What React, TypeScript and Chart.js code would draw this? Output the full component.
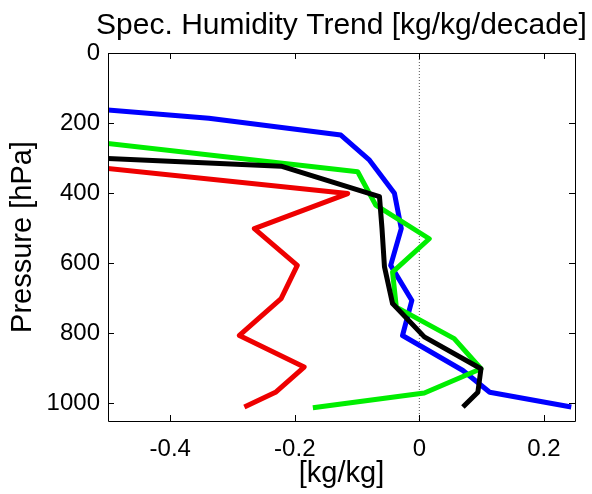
import React, { useEffect, useRef } from "react";
import { Chart, registerables } from "chart.js";

Chart.register(...registerables);

// ---- data ----
const xTickValues = [-0.4, -0.2, 0, 0.2];
const xTickLabels = ["-0.4", "-0.2", "0", "0.2"];
const pressureTicks = [0, 200, 400, 600, 800, 1000];

const blackPressure = [300, 323, 410, 500, 610, 715, 810, 901, 968, 1010];
const blackTrend = [-0.51, -0.222, -0.064, -0.06, -0.056, -0.043, 0.008, 0.099, 0.094, 0.07];

const greenPressure = [250, 339, 434, 530, 625, 725, 815, 901, 970, 1012];
const greenTrend = [-0.54, -0.099, -0.07, 0.016, -0.043, -0.037, 0.056, 0.099, 0.008, -0.171];

const bluePressure = [150, 186, 234, 306, 400, 501, 606, 706, 806, 906, 968, 1010];
const blueTrend = [-0.59, -0.338, -0.126, -0.08, -0.04, -0.029, -0.046, -0.012, -0.027, 0.07, 0.113, 0.244];

const redPressure = [300, 401, 501, 606, 701, 806, 896, 968, 1010];
const redTrend = [-0.657, -0.115, -0.265, -0.196, -0.222, -0.289, -0.185, -0.231, -0.281];

const zeroPressure = [0, 1050];
const zeroTrend = [0, 0];

const TITLE = "Spec. Humidity Trend [kg/kg/decade]";
const X_TITLE = "[kg/kg]";
const Y_TITLE = "Pressure [hPa]";
const FONT = "'Liberation Sans', Arial, Helvetica, sans-serif";

function pts(xs: number[], ps: number[]) {
  return xs.map((x, i) => ({ x, y: ps[i] }));
}

export default function App() {
  const ref = useRef<HTMLCanvasElement>(null);

  useEffect(() => {
    if (!ref.current) return;

    const framePlugin = {
      id: "frameAndTitle",
      afterDatasetsDraw(chart: any) {
        const { ctx, chartArea, scales } = chart;
        const { left, right, top, bottom } = chartArea;
        const xs = scales.x;
        const ys = scales.y;
        const tl = 6;
        ctx.save();
        ctx.strokeStyle = "#000";
        ctx.lineWidth = 1;
        ctx.beginPath();
        ctx.rect(Math.round(left) + 0.5, Math.round(top) + 0.5, Math.round(right - left), Math.round(bottom - top));
        xTickValues.forEach((v) => {
          const px = Math.round(xs.getPixelForValue(v)) + 0.5;
          ctx.moveTo(px, bottom);
          ctx.lineTo(px, bottom - tl);
          ctx.moveTo(px, top);
          ctx.lineTo(px, top + tl);
        });
        pressureTicks.forEach((v) => {
          const py = Math.round(ys.getPixelForValue(v)) + 0.5;
          ctx.moveTo(left, py);
          ctx.lineTo(left + tl, py);
          ctx.moveTo(right, py);
          ctx.lineTo(right - tl, py);
        });
        ctx.stroke();
        ctx.restore();
      },
      afterDraw(chart: any) {
        const { ctx, chartArea } = chart;
        ctx.save();
        ctx.fillStyle = "#000";
        ctx.font = `30px ${FONT}`;
        ctx.textAlign = "center";
        ctx.textBaseline = "alphabetic";
        ctx.fillText(TITLE, (chartArea.left + chartArea.right) / 2, 34);
        ctx.restore();
      },
    };

    const lineStyle = {
      pointRadius: 0,
      pointHoverRadius: 0,
      borderWidth: 5,
      tension: 0,
      fill: false,
      clip: 0,
      borderJoinStyle: "round" as const,
    };

    const chart = new Chart(ref.current, {
      type: "line",
      data: {
        datasets: [
          { ...lineStyle, label: "black", data: pts(blackTrend, blackPressure), borderColor: "#000000" },
          { ...lineStyle, label: "green", data: pts(greenTrend, greenPressure), borderColor: "#00ee00" },
          { ...lineStyle, label: "blue", data: pts(blueTrend, bluePressure), borderColor: "#0000ff" },
          { ...lineStyle, label: "red", data: pts(redTrend, redPressure), borderColor: "#ee0000" },
          {
            label: "zero",
            data: pts(zeroTrend, zeroPressure),
            borderColor: "#555555",
            borderWidth: 1,
            borderDash: [1, 2],
            pointRadius: 0,
            fill: false,
            clip: 0,
          },
        ],
      },
      options: {
        responsive: false,
        animation: false,
        events: [],
        layout: { padding: { left: 0, right: 17, top: 53, bottom: 0 } },
        plugins: {
          legend: { display: false },
          title: { display: false },
          tooltip: { enabled: false },
        },
        scales: {
          x: {
            type: "linear",
            min: -0.5,
            max: 0.25,
            afterBuildTicks: (s: any) => {
              s.ticks = xTickValues.map((v) => ({ value: v }));
            },
            afterFit: (s: any) => {
              s.height = 73;
            },
            grid: { display: false, drawTicks: false },
            border: { display: false },
            ticks: {
              autoSkip: false,
              maxRotation: 0,
              padding: 14,
              color: "#000",
              font: { size: 24, family: FONT },
              callback: (v: any) => {
                const i = xTickValues.findIndex((t) => Math.abs(t - Number(v)) < 1e-9);
                return i >= 0 ? xTickLabels[i] : "";
              },
            },
            title: {
              display: true,
              text: X_TITLE,
              color: "#000",
              font: { size: 29, family: FONT },
              padding: { top: 0, bottom: 3 },
            },
          },
          y: {
            type: "linear",
            reverse: true,
            min: 0,
            max: 1050,
            afterBuildTicks: (s: any) => {
              s.ticks = pressureTicks.map((v) => ({ value: v }));
            },
            afterFit: (s: any) => {
              s.width = 108;
            },
            grid: { display: false, drawTicks: false },
            border: { display: false },
            ticks: {
              autoSkip: false,
              padding: 8,
              color: "#000",
              font: { size: 24, family: FONT },
              callback: (v: any) => String(v),
            },
            title: {
              display: true,
              text: Y_TITLE,
              color: "#000",
              font: { size: 29, family: FONT },
              padding: { top: 6, bottom: 0 },
            },
          },
        },
      },
      plugins: [framePlugin],
    });

    return () => chart.destroy();
  }, []);

  return (
    <div style={{ position: "fixed", left: 0, top: 0, width: 592, height: 494, background: "#fff" }}>
      <canvas ref={ref} width={592} height={494} style={{ width: 592, height: 494, display: "block" }} />
    </div>
  );
}
